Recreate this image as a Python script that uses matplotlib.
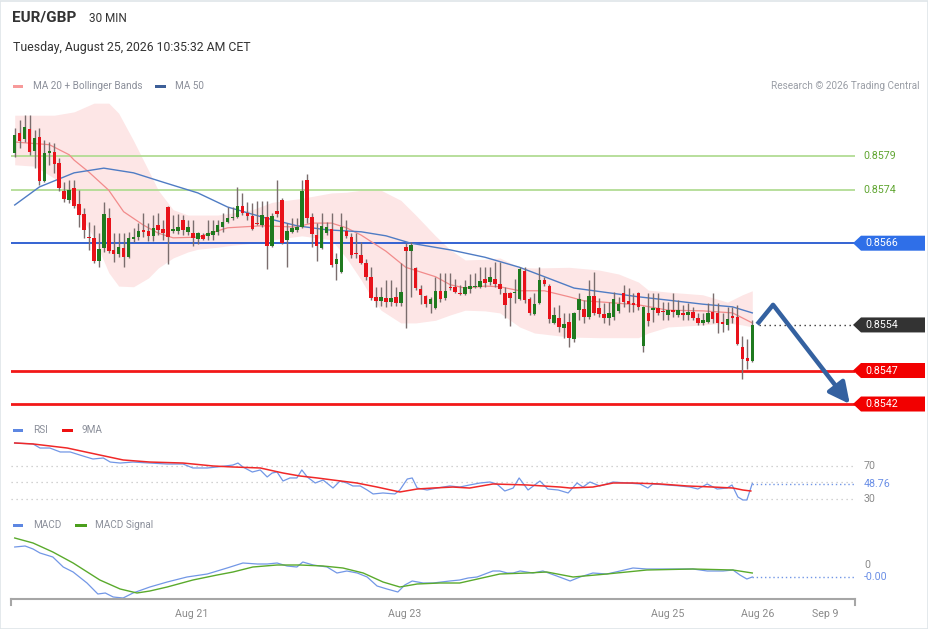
import matplotlib
matplotlib.use('Agg')
import matplotlib.pyplot as plt
import numpy as np
from matplotlib.patches import Polygon, Rectangle

plt.rcParams['font.family'] = ['Roboto', 'DejaVu Sans']

# ---------------- data ----------------
opens = [
    .85795, .85824, .85816, .85830, .85798, .85819, .85753, .85795, .85796, .85780,
    .85738, .85724, .85742, .85719, .85704, .85669, .85668, .85633, .85653, .85698,
    .85650, .85644, .85653, .85639, .85666, .85669, .85680, .85678, .85671, .85687,
    .85681, .85714, .85678, .85678, .85695, .85677, .85675, .85666, .85672, .85671,
    .85672, .85677, .85684, .85692, .85698, .85699, .85716, .85705, .85701, .85690,
    .85687, .85699, .85656, .85708, .85724, .85665, .85677, .85680, .85684, .85754,
    .85699, .85672, .85653, .85675, .85681, .85629, .85617, .85678, .85669, .85645,
    .85642, .85630, .85610, .85580, .85574, .85578, .85572, .85580, .85571, .85654,
    .85648, .85623, .85592, .85581, .85569, .85563, .85589, .85578, .85595, .85595,
    .85586, .85584, .85592, .85595, .85595, .85607, .85602, .85607, .85599, .85586,
    .85586, .85586, .85577, .85618, .85577, .85554, .85571, .85605, .85596, .85541,
    .85548, .85533, .85542, .85517, .85560, .85562, .85550, .85581, .85563, .85554,
    .85548, .85550, .85559, .85586, .85574, .85571, .85586, .85507, .85556, .85560,
    .85563, .85559, .85553, .85560, .85553, .85556, .85553, .85557, .85548, .85541,
    .85542, .85557, .85556, .85542, .85538, .85551, .85550, .85505, .85489, .85484]

highs = [
    .85832, .85844, .85851, .85851, .85829, .85832, .85814, .85811, .85810, .85787,
    .85751, .85754, .85754, .85739, .85713, .85692, .85687, .85675, .85721, .85713,
    .85675, .85675, .85675, .85677, .85683, .85690, .85705, .85690, .85702, .85705,
    .85695, .85716, .85702, .85704, .85702, .85695, .85695, .85677, .85675, .85695,
    .85695, .85695, .85705, .85714, .85714, .85744, .85735, .85721, .85720, .85723,
    .85723, .85723, .85705, .85754, .85727, .85690, .85698, .85698, .85754, .85763,
    .85705, .85690, .85705, .85692, .85705, .85645, .85705, .85695, .85675, .85675,
    .85662, .85636, .85624, .85595, .85595, .85605, .85605, .85595, .85630, .85660,
    .85662, .85624, .85598, .85583, .85580, .85610, .85616, .85616, .85616, .85607,
    .85598, .85605, .85614, .85616, .85624, .85624, .85624, .85632, .85632, .85595,
    .85587, .85607, .85624, .85624, .85580, .85586, .85624, .85610, .85599, .85565,
    .85568, .85556, .85556, .85557, .85586, .85575, .85605, .85617, .85578, .85571,
    .85572, .85587, .85580, .85598, .85593, .85586, .85587, .85566, .85586, .85586,
    .85586, .85572, .85572, .85586, .85575, .85568, .85571, .85565, .85556, .85556,
    .85571, .85586, .85571, .85556, .85565, .85565, .85568, .85522, .85517, .85545]

lows = [
    .85789, .85802, .85811, .85792, .85772, .85747, .85751, .85777, .85765, .85738,
    .85721, .85720, .85713, .85684, .85668, .85650, .85630, .85624, .85647, .85645,
    .85632, .85639, .85624, .85638, .85662, .85665, .85669, .85663, .85663, .85672,
    .85665, .85629, .85675, .85674, .85672, .85672, .85656, .85659, .85665, .85665,
    .85665, .85672, .85677, .85690, .85695, .85698, .85702, .85695, .85680, .85687,
    .85684, .85621, .85654, .85699, .85659, .85624, .85675, .85677, .85683, .85690,
    .85654, .85633, .85651, .85672, .85624, .85605, .85616, .85668, .85638, .85638,
    .85629, .85605, .85575, .85565, .85566, .85565, .85566, .85566, .85566, .85533,
    .85580, .85590, .85569, .85565, .85556, .85562, .85572, .85575, .85590, .85586,
    .85583, .85583, .85586, .85593, .85593, .85595, .85598, .85595, .85584, .85548,
    .85536, .85571, .85575, .85571, .85553, .85553, .85569, .85596, .85541, .85539,
    .85527, .85519, .85505, .85513, .85545, .85541, .85547, .85553, .85550, .85541,
    .85538, .85545, .85556, .85565, .85557, .85557, .85560, .85498, .85536, .85542,
    .85553, .85545, .85545, .85550, .85550, .85545, .85545, .85545, .85538, .85538,
    .85541, .85541, .85526, .85527, .85530, .85541, .85508, .85457, .85472, .85483]

closes = [
    .85822, .85813, .85833, .85796, .85817, .85753, .85795, .85798, .85778, .85742,
    .85726, .85739, .85716, .85702, .85680, .85668, .85633, .85651, .85704, .85648,
    .85644, .85654, .85639, .85668, .85669, .85678, .85677, .85671, .85683, .85680,
    .85675, .85669, .85681, .85684, .85680, .85684, .85668, .85675, .85666, .85675,
    .85678, .85687, .85692, .85698, .85699, .85716, .85705, .85701, .85681, .85689,
    .85702, .85656, .85701, .85704, .85660, .85678, .85683, .85684, .85738, .85698,
    .85674, .85656, .85686, .85684, .85627, .85636, .85684, .85671, .85642, .85644,
    .85630, .85610, .85578, .85574, .85580, .85572, .85578, .85571, .85587, .85648,
    .85657, .85593, .85583, .85569, .85577, .85589, .85577, .85589, .85593, .85587,
    .85584, .85595, .85596, .85596, .85604, .85601, .85610, .85599, .85592, .85568,
    .85578, .85587, .85621, .85575, .85556, .85569, .85605, .85599, .85547, .85553,
    .85535, .85539, .85519, .85556, .85577, .85550, .85581, .85556, .85554, .85548,
    .85556, .85577, .85569, .85572, .85569, .85568, .85565, .85565, .85544, .85563,
    .85556, .85557, .85560, .85557, .85560, .85553, .85557, .85548, .85541, .85545,
    .85556, .85547, .85541, .85539, .85547, .85548, .85510, .85487, .85484, .85538]

ma50_idx = [0, 5, 12, 18, 24, 30, 37, 43, 50, 57, 63, 70, 75, 80, 88, 95, 102, 107, 113,
            119, 126, 132, 139, 145, 149]
ma50 = [.85717, .85744, .85765, .85772, .85765, .85751, .85735, .85714, .85699, .85686,
        .85680, .85677, .85671, .85660, .85650, .85639, .85624, .85610, .85593, .85587,
        .85580, .85575, .85569, .85565, .85556]

ma20_idx = [0, 7, 11, 12, 15, 19, 22, 26, 29, 32, 37, 43, 50, 57, 60, 64, 67, 70, 75, 79,
            85, 88, 91, 95, 98, 102, 107, 112, 115, 119, 126, 132, 139, 145, 149]
ma20 = [.85811, .85807, .85792, .85784, .85766, .85739, .85707, .85687, .85675, .85668,
        .85669, .85683, .85686, .85684, .85690, .85690, .85683, .85672, .85648, .85624,
        .85610, .85598, .85593, .85596, .85595, .85589, .85589, .85580, .85574, .85572,
        .85568, .85560, .85559, .85556, .85541]

bb_idx = [0, 4, 8, 12, 16, 19, 21, 24, 27, 29, 32, 35, 37, 41, 44, 48, 52, 58, 64, 67, 70,
          72, 74, 78, 81, 85, 88, 91, 95, 98, 102, 105, 112, 118, 122, 126, 128, 132, 139,
          144, 147, 149]
bb_upper = [.85851, .85851, .85851, .85856, .85869, .85869, .85854, .85813, .85769, .85739,
            .85710, .85702, .85702, .85702, .85705, .85710, .85721, .85727, .85735, .85736,
            .85739, .85739, .85739, .85724, .85702, .85671, .85650, .85635, .85636, .85638,
            .85624, .85623, .85624, .85620, .85614, .85602, .85590, .85587, .85583, .85572,
            .85583, .85589]
bb_lower = [.85777, .85775, .85757, .85717, .85668, .85616, .85596, .85595, .85608, .85623,
            .85638, .85647, .85651, .85654, .85657, .85660, .85665, .85671, .85665, .85638,
            .85605, .85580, .85560, .85541, .85541, .85545, .85553, .85560, .85559, .85556,
            .85535, .85526, .85520, .85519, .85519, .85519, .85526, .85535, .85538, .85541,
            .85538, .85535]

rsi_idx = [0, 3.7, 5.1, 7.1, 9.2, 11.2, 13.8, 15.8, 17.9, 19.3, 21.3, 23.9, 27.3, 30.8, 34,
           36, 38.9, 40.9, 44.1, 45.1, 46.1, 48, 49.6, 51, 52, 53, 54.2, 55.6, 57, 58, 59.1,
           60.7, 62.3, 63.3, 64.3, 65.7, 67.1, 68.3, 69.8, 71.2, 72.4, 74.4, 76.8, 77.8,
           79.3, 80.3, 81.3, 83.3, 85.3, 87.9, 89.9, 91.9, 94, 96, 97.4, 99, 100.7, 101.9,
           103.7, 106.1, 107.7, 109.8, 111.8, 113.6, 114.8, 116.2, 118.2, 120.9, 123.7,
           126.3, 127.9, 128.9, 131.8, 134.4, 136.4, 138, 139.9, 141.9, 143.9, 144.9,
           146.1, 147.1, 147.9, 149]
rsi_val = [97.9, 96.7, 91.8, 91.8, 87.0, 87.0, 82.1, 78.5, 79.7, 74.8, 73.6, 74.8, 73.6,
           72.4, 72.4, 67.6, 67.6, 68.8, 71.2, 73.6, 68.8, 62.7, 65.2, 56.7, 61.5, 62.7,
           51.8, 55.5, 55.5, 65.2, 56.7, 49.4, 53.0, 48.2, 43.3, 51.8, 49.4, 45.8, 45.8,
           40.9, 36.1, 37.3, 36.1, 40.9, 54.2, 55.5, 43.3, 40.9, 43.3, 45.8, 44.5, 47.0,
           49.4, 50.6, 48.2, 39.7, 43.3, 55.5, 40.9, 51.8, 42.1, 40.9, 37.3, 49.4, 44.5,
           50.6, 45.8, 50.6, 49.4, 48.2, 43.3, 48.2, 47.0, 45.8, 44.5, 42.1, 48.2, 42.1,
           43.3, 47.0, 32.4, 28.8, 28.8, 48.76]

rsi_ma_idx = [0, 3.7, 10.6, 17.2, 21.9, 27.3, 34, 40.1, 44.1, 49.6, 54.2, 57.6, 61.1,
              64.3, 69.1, 73.2, 77.8, 81.3, 84.5, 88.5, 91.9, 96.6, 103.5, 110.2, 112.2,
              116.8, 120.9, 124.9, 130.4, 135.8, 141.1, 145.1, 147.1, 148.7]
rsi_ma_val = [97.9, 96.7, 91.8, 83.3, 77.3, 74.8, 73.6, 70.0, 68.8, 67.6, 61.5, 57.9,
              55.5, 53.0, 49.4, 44.5, 38.5, 42.1, 43.3, 44.5, 43.3, 48.2, 47.0, 44.5, 43.3,
              44.5, 49.4, 49.4, 48.2, 45.8, 44.5, 43.3, 40.9, 39.7]

macd_idx = [0, 2.1, 3.7, 5.1, 7.7, 9.8, 11.8, 14.6, 16.8, 18.3, 19.9, 21.9, 23.9, 27.3,
            30.8, 34.8, 38.9, 42.9, 46.1, 49, 51, 53, 55, 57, 58.2, 60.3, 63.1, 65.1, 67.1,
            69.2, 71.2, 73.2, 75.2, 77.4, 78.8, 80.3, 82.5, 84.5, 87.9, 89.9, 91.6, 93.4,
            96.6, 98, 99.5, 100.7, 102.1, 104.7, 106.7, 109.5, 112.2, 114.2, 116.8, 119.6,
            122.3, 124.9, 127.7, 131.8, 137, 139.9, 143.1, 145.1, 146.5, 147.9, 149]
macd_val = [0.00018, 0.00019, 0.00016, 0.00012, 0.00008, -0.00002, -0.00007, -0.00018,
            -0.00029, -0.00028, -0.00032, -0.00033, -0.00028, -0.00022, -0.00017, -0.00012,
            -0.00009, -0.00003, 0.00002, 0.00001, 0.00001, 0.00002, -0.00001, -0.00002,
            0.00003, 0.0, -0.00002, -0.00008, -0.00006, -0.00008, -0.00012, -0.00021,
            -0.00024, -0.00027, -0.00020, -0.00016, -0.00018, -0.00018, -0.00016, -0.00015,
            -0.00013, -0.00012, -0.00006, -0.00006, -0.00008, -0.00008, -0.00006, -0.00008,
            -0.00006, -0.00011, -0.00016, -0.00012, -0.00008, -0.00009, -0.00006, -0.00003,
            -0.00004, -0.00004, -0.00004, -0.00006, -0.00006, -0.00005, -0.00010, -0.00014,
            -0.00012]

signal_idx = [0, 3.7, 7.7, 11.8, 17.2, 21.3, 24.7, 27.3, 30.8, 36, 40.9, 44.1, 48.1, 53,
              57.6, 62.3, 66.3, 70.4, 74.4, 77.8, 81.3, 85.9, 89.9, 98, 103.5, 107.5, 112.8,
              119.6, 127.7, 137, 145.1, 149]
signal_val = [0.00027, 0.00022, 0.00013, 0.00002, -0.00015, -0.00024, -0.00028, -0.00026,
              -0.00022, -0.00015, -0.00010, -0.00007, -0.00002, 0.0, 0.0, -0.00001,
              -0.00003, -0.00008, -0.00017, -0.00022, -0.00019, -0.00018, -0.00018,
              -0.00009, -0.00008, -0.00007, -0.00012, -0.00009, -0.00005, -0.00004,
              -0.00005, -0.00008]

green_levels = [0.8579, 0.8574]
resist_level = 0.8566
support_levels = [0.8547, 0.8542]
forecast_idx = [150.0, 153.2, 168.7]
forecast_price = [0.85539, 0.85568, 0.85420]
rsi_levels = [70, 50, 30]
rsi_labels = [70, 30]
date_ticks = [35.8, 78.8, 132.0, 150.0, 163.7]
date_labels = ['Aug 21', 'Aug 23', 'Aug 25', 'Aug 26', 'Sep 9']

# ---------------- figure ----------------
W, H = 929, 629
fig = plt.figure(figsize=(W / 100, H / 100), dpi=100)
fig.patch.set_facecolor('white')


def box(l, t, r, b):
    return [l / W, 1 - b / H, (r - l) / W, (b - t) / H]


XLIM = (-0.75, 169.75)

# ---- main price panel ----
ax = fig.add_axes(box(11, 100, 855, 415))
ax.set_xlim(*XLIM)
ax.set_ylim(0.854036, 0.858737)
ax.axis('off')

ax.fill_between(bb_idx, bb_lower, bb_upper, color='#fde6e6', lw=0, zorder=1)
for lv in green_levels:
    ax.axhline(lv, color='#b2dc94', lw=1.3, zorder=1.5)
ax.axhline(resist_level, color='#2457cf', lw=1.3, zorder=1.5)
for lv in support_levels:
    ax.axhline(lv, color='#f21818', lw=2.0, zorder=1.5)

ax.plot(ma20_idx, ma20, color='#f28b8b', lw=0.9, zorder=2)
ax.plot(ma50_idx, ma50, color='#4f7cc4', lw=1.0, zorder=2)

o = np.array(opens); h = np.array(highs); l = np.array(lows); c = np.array(closes)
x = np.arange(len(o))
ax.vlines(x, l, h, color='#7a6d6d', lw=1.0, zorder=3)
body_bottom = np.minimum(o, c)
body_h = np.maximum(np.abs(c - o), 0.000012)
cols = np.where(c >= o, '#1f7a1f', '#e8121a')
ax.bar(x, body_h, bottom=body_bottom, width=0.72, color=cols, lw=0, zorder=4)

# last price dotted line
ax.hlines(closes[-1], forecast_idx[0] + 0.3, 169.4, colors='#333333',
          linestyles=(0, (1, 2.6)), lw=1.0, zorder=3)

# forecast arrow
arrow_col = '#3461a0'
ax.plot(forecast_idx[:2], forecast_price[:2], color=arrow_col, lw=3.2,
        solid_joinstyle='miter', solid_capstyle='butt', zorder=6)
ax.annotate('', xy=(forecast_idx[2], forecast_price[2]),
            xytext=(forecast_idx[1], forecast_price[1]),
            arrowprops=dict(arrowstyle='-|>,head_length=0.9,head_width=0.45',
                            lw=3.2, color=arrow_col, shrinkA=0, shrinkB=0,
                            mutation_scale=14), zorder=6)

# ---- RSI panel ----
rax = fig.add_axes(box(11, 425, 855, 515))
rax.set_xlim(*XLIM)
rax.set_ylim(10.6, 119.7)
rax.axis('off')
for lv in rsi_levels:
    rax.axhline(lv, color='#c4c4c4', ls=(0, (1, 3)), lw=0.9)
rax.plot(rsi_idx, rsi_val, color='#7297e6', lw=0.9)
rax.plot(rsi_ma_idx, rsi_ma_val, color='#f02828', lw=1.1)
rax.hlines(rsi_val[-1], rsi_idx[-1], XLIM[1], colors='#7297e6',
           linestyles=(0, (1, 2)), lw=1.0)

# ---- MACD panel ----
mx = fig.add_axes(box(11, 515, 855, 599))
mx.set_xlim(*XLIM)
mx.set_ylim(-0.00034, 0.0005)
for s in ['left', 'right', 'top']:
    mx.spines[s].set_visible(False)
mx.spines['bottom'].set_color('#a6a6a6')
mx.spines['bottom'].set_linewidth(1.5)
mx.set_yticks([])
mx.set_xticks(date_ticks)
mx.set_xticklabels(date_labels)
mx.tick_params(axis='x', length=0, pad=7, labelsize=7.7, labelcolor='#8a8a8a')
mx.patch.set_alpha(0)
for xe in (0, 1):
    mx.plot([xe, xe], [0, -0.07], transform=mx.transAxes, clip_on=False,
            color='#a6a6a6', lw=1.5)
mx.plot(macd_idx, macd_val, color='#7297e6', lw=0.9)
mx.plot(signal_idx, signal_val, color='#5aaa2c', lw=1.0)
mx.hlines(macd_val[-1], macd_idx[-1], XLIM[1], colors='#7297e6',
          linestyles=(0, (1, 2)), lw=1.0)

# ---- overlay (pixel coordinates) ----
ov = fig.add_axes([0, 0, 1, 1], zorder=10)
ov.set_xlim(0, W)
ov.set_ylim(H, 0)
ov.axis('off')
ov.patch.set_alpha(0)


def py(axis, val):
    d = axis.transData.transform((0, val))
    return H - d[1]


ov.add_patch(Rectangle((0.5, 0.5), W - 1, H - 1, fill=False, ec='#dfe5e9', lw=1.2))

ov.text(12, 18, 'EUR/GBP', fontsize=11, fontweight='bold', color='#333333', va='center')
ov.text(89, 18, '30 MIN', fontsize=8.5, color='#333333', va='center')
ov.text(13, 48, 'Tuesday, August 25, 2026 10:35:32 AM CET', fontsize=8.8,
        color='#333333', va='center')

leg_col = '#8b8f9a'
ov.add_patch(Rectangle((13, 84.5), 10, 3.5, color='#f79a9a', lw=0))
ov.text(33, 86, 'MA 20 + Bollinger Bands', fontsize=7.2, color=leg_col, va='center')
ov.add_patch(Rectangle((155, 84.5), 11, 3.5, color='#3d5f98', lw=0))
ov.text(175, 86, 'MA 50', fontsize=7.2, color=leg_col, va='center')
ov.text(920, 86, 'Research \u00a9 2026 Trading Central', fontsize=7.2, color='#9a9ea6',
        va='center', ha='right')

ov.add_patch(Rectangle((13, 428.5), 10, 3.5, color='#5d87e2', lw=0))
ov.text(33, 430, 'RSI', fontsize=7.2, color=leg_col, va='center')
ov.add_patch(Rectangle((62, 428.5), 11, 3.5, color='#ee1111', lw=0))
ov.text(82, 430, '9MA', fontsize=7.2, color=leg_col, va='center')

ov.add_patch(Rectangle((13, 523.5), 10, 3.5, color='#5d87e2', lw=0))
ov.text(33, 525, 'MACD', fontsize=7.2, color=leg_col, va='center')
ov.add_patch(Rectangle((75, 523.5), 12, 3.5, color='#4b9f1d', lw=0))
ov.text(95, 525, 'MACD Signal', fontsize=7.2, color=leg_col, va='center')

# price labels
for lv in green_levels:
    ov.text(863, py(ax, lv), f'{lv:.4f}', fontsize=7.7, color='#5fa530', va='center')


def tag(val, fc):
    y = py(ax, val)
    ov.add_patch(Polygon([(853, y), (861, y - 7.5), (925, y - 7.5), (925, y + 7.5),
                          (861, y + 7.5)], closed=True, fc=fc, ec='none'))
    ov.text(865, y, f'{val:.4f}', fontsize=7.7, color='white', va='center')


tag(resist_level, '#2f6fe8')
tag(closes[-1], '#333333')
for lv in support_levels:
    tag(lv, '#f20000')

for lv in rsi_labels:
    ov.text(864, py(rax, lv), f'{lv}', fontsize=7.7, color='#8a8a8a', va='center')
ov.text(864, py(rax, rsi_val[-1]), f'{rsi_val[-1]:.2f}', fontsize=7.7, color='#6b8fe6',
        va='center')
ov.text(864, py(mx, 0), '0', fontsize=7.7, color='#8a8a8a', va='center')
ov.text(864, py(mx, macd_val[-1]), f'{macd_val[-1]:.2f}', fontsize=7.7, color='#6b8fe6',
        va='center')

fig.savefig('out.png', dpi=100)
